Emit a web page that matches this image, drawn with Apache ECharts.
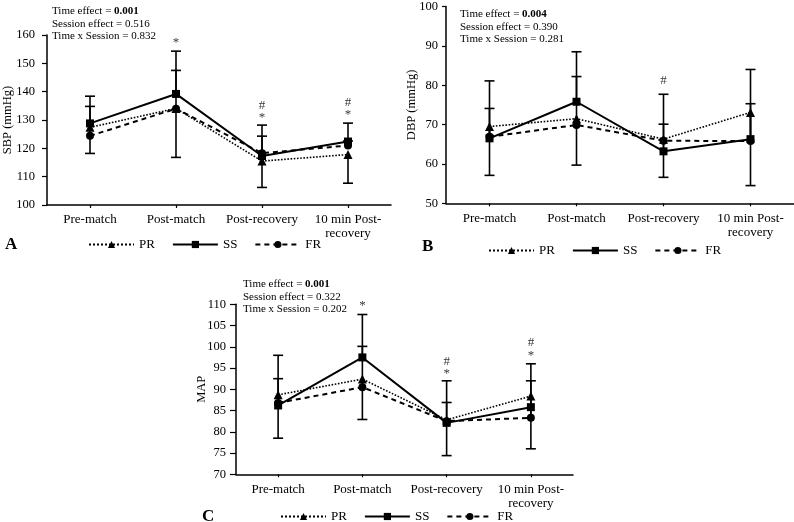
<!DOCTYPE html>
<html><head><meta charset="utf-8">
<script src="https://cdn.jsdelivr.net/npm/echarts@6/dist/echarts.min.js"></script>
<style>html,body{margin:0;padding:0;background:#fff}#c{width:794px;height:522px}</style>
</head><body><div id="c"></div>
<script>
const categories = ['Pre-match', 'Post-match', 'Post-recovery', '10 min Post-\nrecovery'];
const groupNames = ['PR', 'SS', 'FR'];

// Panel A: SBP (mmHg)
const sbpPR = [127.4, 134.1, 115.5, 117.8];
const sbpSS = [128.8, 139.2, 117.3, 122.4];
const sbpFR = [124.4, 134.0, 118.3, 121.0];
const sbpErrPR = [118.2, 116.8, 106.2, 107.7];
const sbpErrSS = [138.4, 154.3, 128.2, 128.9];
const sbpErrFR = [134.8, 147.5, 124.3, 122.6];
const sbpMarks = [[1, 157.3, '*'], [2, 135.0, '#'], [2, 130.9, '*'], [3, 136.1, '#'], [3, 131.9, '*']];
const sbpStats = ['0.001', '0.516', '0.832'];
const sbpTicks = [100, 160, 10];

// Panel B: DBP (mmHg)
const dbpPR = [69.5, 71.5, 66.3, 73.1];
const dbpSS = [66.5, 75.8, 63.2, 66.3];
const dbpFR = [66.9, 69.9, 65.9, 65.8];
const dbpErrPR = [57.1, 59.7, 56.6, 54.5];
const dbpErrSS = [81.1, 88.5, 77.7, 84.0];
const dbpErrFR = [74.1, 82.2, 70.1, 75.3];
const dbpMarks = [[2, 81.1, '#']];
const dbpStats = ['0.004', '0.390', '0.281'];
const dbpTicks = [50, 100, 10];

// Panel C: MAP
const mapPR = [88.7, 92.4, 82.8, 88.4];
const mapSS = [86.2, 97.5, 82.1, 85.8];
const mapFR = [86.8, 90.5, 82.5, 83.3];
const mapErrPR = [78.5, 82.9, 74.4, 76.0];
const mapErrSS = [98.0, 107.6, 92.0, 96.0];
const mapErrFR = [92.5, 100.1, 86.9, 92.0];
const mapMarks = [[1, 109.7, '*'], [2, 96.6, '#'], [2, 93.7, '*'], [3, 101.1, '#'], [3, 98.0, '*']];
const mapStats = ['0.001', '0.322', '0.202'];
const mapTicks = [70, 110, 5];

const FONT = '"Liberation Serif", "Times New Roman", serif';
const BLACK = '#000';

const panels = [
  { key: 'A', yName: 'SBP (mmHg)', means: [sbpPR, sbpSS, sbpFR], errs: [sbpErrPR, sbpErrSS, sbpErrFR], marks: sbpMarks, stats: sbpStats, ticks: sbpTicks,
    grid: { left: 47, top: 35, width: 344, height: 170 }, nameGap: 33, labelMargin: 12, tickLen: 5,
    statsPos: { left: 52, top: 5 }, letterPos: { left: 5, top: 236 }, legendPos: { left: 88, top: 238 } },
  { key: 'B', yName: 'DBP (mmHg)', means: [dbpPR, dbpSS, dbpFR], errs: [dbpErrPR, dbpErrSS, dbpErrFR], marks: dbpMarks, stats: dbpStats, ticks: dbpTicks,
    grid: { left: 446, top: 6, width: 351, height: 197.3 }, nameGap: 28, labelMargin: 8, tickLen: 4,
    statsPos: { left: 460, top: 8 }, letterPos: { left: 422, top: 238 }, legendPos: { left: 488, top: 244 } },
  { key: 'C', yName: 'MAP', means: [mapPR, mapSS, mapFR], errs: [mapErrPR, mapErrSS, mapErrFR], marks: mapMarks, stats: mapStats, ticks: mapTicks,
    grid: { left: 236, top: 304.3, width: 337, height: 170 }, nameGap: 28, labelMargin: 10, tickLen: 6,
    statsPos: { left: 243, top: 278 }, letterPos: { left: 202, top: 508 }, legendPos: { left: 280, top: 510 } }
];

const symbols = ['triangle', 'rect', 'circle'];
const symbolSizes = [9, 8, 8];
const lineTypes = ['dotted', 'solid', [5, 4]];
const lineWidths = [1.6, 2, 2];

const grids = [], xAxes = [], yAxes = [], series = [], titles = [], legends = [];

panels.forEach((p, i) => {
  grids.push(Object.assign({ containLabel: false }, p.grid));
  xAxes.push({
    type: 'category', gridIndex: i, data: categories, boundaryGap: true,
    axisLine: { lineStyle: { color: BLACK, width: 1.5 } },
    axisTick: { show: true, alignWithLabel: true, length: 3, lineStyle: { color: BLACK, width: 1.2 } },
    axisLabel: { color: BLACK, fontFamily: FONT, fontSize: 13, lineHeight: 14, margin: 8, interval: 0 },
    splitLine: { show: false }
  });
  yAxes.push({
    type: 'value', gridIndex: i, min: p.ticks[0], max: p.ticks[1], interval: p.ticks[2],
    name: p.yName, nameLocation: 'middle', nameGap: p.nameGap, nameRotate: 90, nameMoveOverlap: false,
    nameTextStyle: { color: BLACK, fontFamily: FONT, fontSize: 12.5 },
    axisLine: { show: true, lineStyle: { color: BLACK, width: 1.5 } },
    axisTick: { show: true, length: p.tickLen, lineStyle: { color: BLACK, width: 1.2 } },
    axisLabel: { color: BLACK, fontFamily: FONT, fontSize: 12.5, margin: p.labelMargin },
    splitLine: { show: false }
  });
  // error bars
  groupNames.forEach((g, s) => {
    series.push({
      type: 'custom', name: g + '-err', xAxisIndex: i, yAxisIndex: i, silent: true, z: 2,
      data: p.means[s].map((m, k) => [k, m, p.errs[s][k]]),
      renderItem: (params, api) => {
        const a = api.coord([api.value(0), api.value(1)]);
        const b = api.coord([api.value(0), api.value(2)]);
        const hw = 5;
        return {
          type: 'group', children: [
            { type: 'line', shape: { x1: a[0], y1: a[1], x2: b[0], y2: b[1] }, style: { stroke: BLACK, lineWidth: 1.6 } },
            { type: 'line', shape: { x1: b[0] - hw, y1: b[1], x2: b[0] + hw, y2: b[1] }, style: { stroke: BLACK, lineWidth: 1.6 } }
          ]
        };
      }
    });
  });
  // lines
  groupNames.forEach((g, s) => {
    series.push({
      type: 'line', name: g, xAxisIndex: i, yAxisIndex: i, data: p.means[s], z: 3,
      symbol: symbols[s], symbolSize: symbolSizes[s], showSymbol: true,
      lineStyle: { color: BLACK, width: lineWidths[s], type: lineTypes[s] },
      itemStyle: { color: BLACK }, animation: false
    });
  });
  // significance marks
  series.push({
    type: 'scatter', name: 'sig' + i, xAxisIndex: i, yAxisIndex: i, silent: true, symbolSize: 0,
    data: p.marks,
    label: { show: true, position: 'inside', formatter: (q) => q.data[2], color: BLACK, fontFamily: FONT, fontSize: 13 }
  });
  titles.push({
    left: p.statsPos.left, top: p.statsPos.top, padding: 0,
    text: '{n|Time effect = }{b|' + p.stats[0] + '}\n{n|Session effect = ' + p.stats[1] + '}\n{n|Time x Session = ' + p.stats[2] + '}',
    textStyle: {
      fontFamily: FONT, fontSize: 11, lineHeight: 12.5, color: BLACK, fontWeight: 'normal',
      rich: {
        n: { fontFamily: FONT, fontSize: 11, lineHeight: 12.5, color: BLACK },
        b: { fontFamily: FONT, fontSize: 11, lineHeight: 12.5, color: BLACK, fontWeight: 'bold' }
      }
    }
  });
  titles.push({
    left: p.letterPos.left, top: p.letterPos.top, padding: 0, text: p.key,
    textStyle: { fontFamily: FONT, fontSize: 17, fontWeight: 'bold', color: BLACK }
  });
  legends.push({
    left: p.legendPos.left, top: p.legendPos.top, padding: 0, data: groupNames,
    itemWidth: 45, itemHeight: 9, itemGap: 17, selectedMode: false,
    textStyle: { color: BLACK, fontFamily: FONT, fontSize: 13 }
  });
});

const chart = echarts.init(document.getElementById('c'), null, { renderer: 'canvas' });
chart.setOption({
  backgroundColor: '#fff', animation: false,
  grid: grids, xAxis: xAxes, yAxis: yAxes, series: series, title: titles, legend: legends
});
</script></body></html>
